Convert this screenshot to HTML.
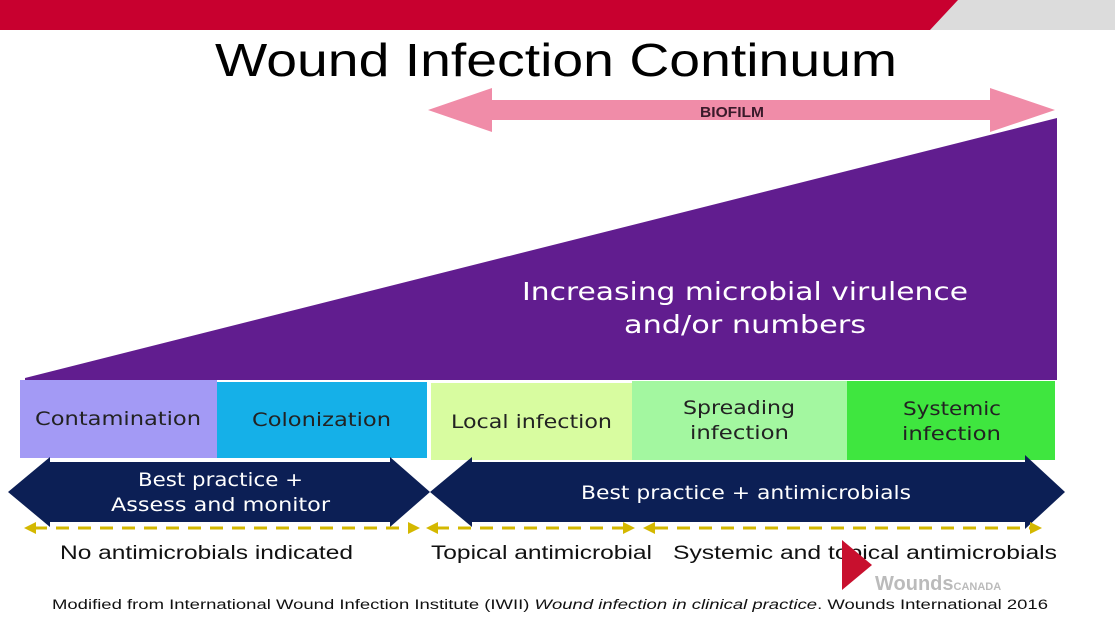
<!DOCTYPE html>
<html><head><style>body{margin:0;background:#fff}svg{display:block}</style></head><body>
<svg width="1115" height="627" viewBox="0 0 1115 627" xmlns="http://www.w3.org/2000/svg" font-family="Liberation Sans, sans-serif">
<rect width="1115" height="627" fill="#fff"/>
<rect x="0" y="0" width="1115" height="30" fill="#dcdcdc"/>
<polygon points="0,0 958,0 930,30 0,30" fill="#c8002f"/>
<text x="215" y="76" font-size="46" textLength="682" lengthAdjust="spacingAndGlyphs" fill="#000">Wound Infection Continuum</text>
<polygon points="428,110 492,88 492,100 990,100 990,88 1055,110 990,132 990,120 492,120 492,132" fill="#f08ca8"/>
<text x="700" y="117" font-size="15" font-weight="bold" textLength="64" lengthAdjust="spacingAndGlyphs" fill="#3a1a2a">BIOFILM</text>
<polygon points="25,378 1057,118 1057,380 25,380" fill="#611d8f"/>
<g font-size="25" fill="#fff" font-family="DejaVu Sans, sans-serif">
<text x="522" y="300" textLength="446" lengthAdjust="spacingAndGlyphs">Increasing microbial virulence</text>
<text x="624" y="333" textLength="242" lengthAdjust="spacingAndGlyphs">and/or numbers</text>
</g>
<rect x="20" y="380" width="197" height="78" fill="#a39af5"/>
<rect x="217" y="382" width="210" height="76" fill="#15b0e8"/>
<rect x="431" y="383" width="201" height="77" fill="#d8fca0"/>
<rect x="632" y="381" width="215" height="79" fill="#a3f7a0"/>
<rect x="847" y="381" width="208" height="79" fill="#3fe63f"/>
<g font-size="19" fill="#222" font-family="DejaVu Sans, sans-serif" lengthAdjust="spacingAndGlyphs">
<text x="35" y="425" textLength="166" lengthAdjust="spacingAndGlyphs">Contamination</text>
<text x="252" y="426" textLength="139" lengthAdjust="spacingAndGlyphs">Colonization</text>
<text x="451" y="428" textLength="161" lengthAdjust="spacingAndGlyphs">Local infection</text>
<text x="683" y="414" textLength="112" lengthAdjust="spacingAndGlyphs">Spreading</text>
<text x="690" y="439" textLength="99" lengthAdjust="spacingAndGlyphs">infection</text>
<text x="903" y="415" textLength="98" lengthAdjust="spacingAndGlyphs">Systemic</text>
<text x="902" y="440" textLength="99" lengthAdjust="spacingAndGlyphs">infection</text>
</g>
<polygon points="8,492 50,457 50,462 390,462 390,457 430,492 390,527 390,522 50,522 50,527" fill="#0c1f55"/>
<polygon points="430,492 472,457 472,462 1025,462 1025,455 1065,492 1025,529 1025,522 472,522 472,527" fill="#0c1f55"/>
<g font-size="19" fill="#fff" font-family="DejaVu Sans, sans-serif">
<text x="138" y="486" textLength="165" lengthAdjust="spacingAndGlyphs">Best practice +</text>
<text x="111" y="511" textLength="219" lengthAdjust="spacingAndGlyphs">Assess and monitor</text>
<text x="581" y="499" textLength="330" lengthAdjust="spacingAndGlyphs">Best practice + antimicrobials</text>
</g>
<g stroke="#d4b800" stroke-width="3" stroke-dasharray="13,9" fill="none">
<line x1="34" y1="528" x2="410" y2="528"/>
<line x1="436" y1="528" x2="625" y2="528"/>
<line x1="655" y1="528" x2="1030" y2="528"/>
</g>
<g fill="#d4b800">
<polygon points="24,528 36,522 36,534"/><polygon points="420,528 408,522 408,534"/>
<polygon points="426,528 438,522 438,534"/><polygon points="635,528 623,522 623,534"/>
<polygon points="643,528 655,522 655,534"/><polygon points="1042,528 1030,522 1030,534"/>
</g>
<g font-size="19" fill="#111">
<text x="60" y="559" textLength="293" lengthAdjust="spacingAndGlyphs">No antimicrobials indicated</text>
<text x="431" y="559" textLength="221" lengthAdjust="spacingAndGlyphs">Topical antimicrobial</text>
<text x="673" y="559" textLength="384" lengthAdjust="spacingAndGlyphs">Systemic and topical antimicrobials</text>
</g>
<polygon points="842,540 872,565 842,590" fill="#c8102e"/>
<text x="875" y="590" font-size="20" font-weight="bold" fill="#bbb">Wounds<tspan font-size="11">CANADA</tspan></text>
<text x="52" y="609" font-size="13.5" fill="#111" textLength="996" lengthAdjust="spacingAndGlyphs">Modified from International Wound Infection Institute (IWII) <tspan font-style="italic">Wound infection in clinical practice</tspan>. Wounds International 2016</text>
</svg>
</body></html>
